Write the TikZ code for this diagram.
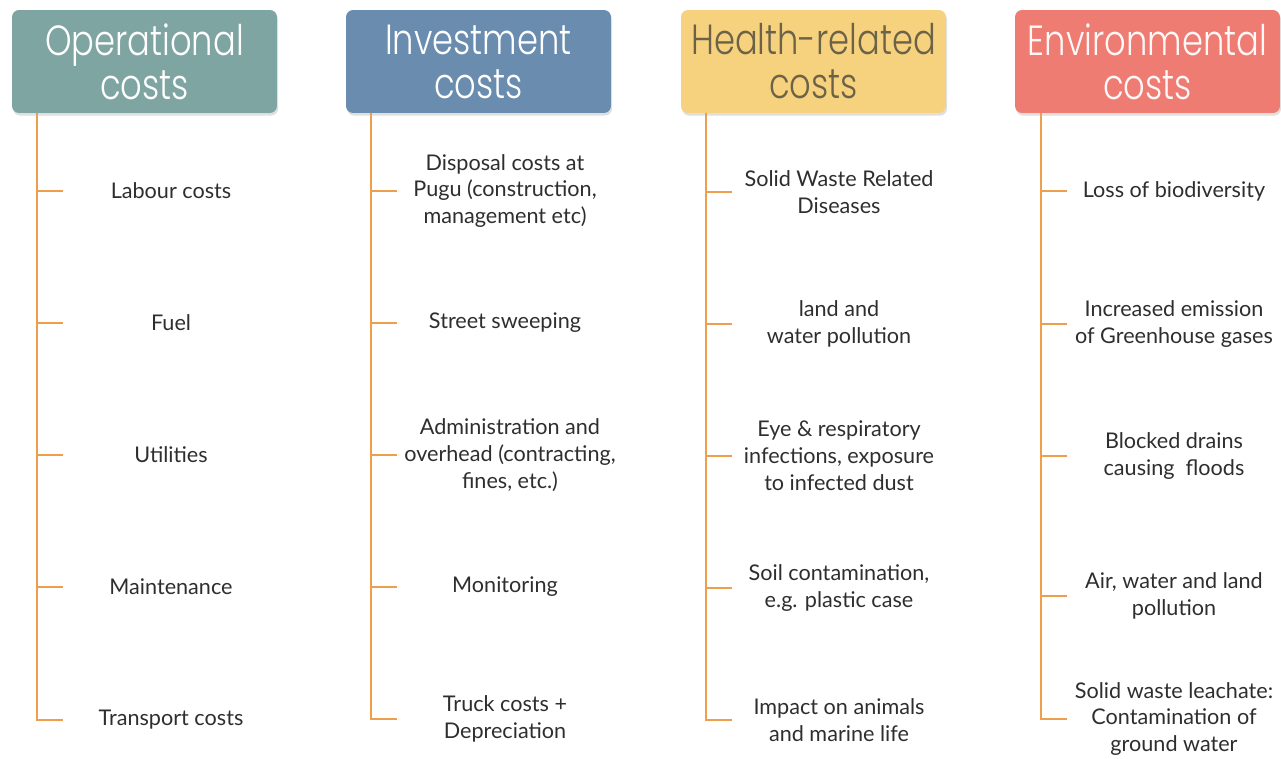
\documentclass[tikz,border=0pt]{standalone}
\usepackage{fontspec}
\usepackage{graphicx}
\setmainfont{Lato}
% light face for the headers when it is there
\IfFontExistsTF{Poppins Light}
    {\newfontfamily\headfont{Poppins Light}}
    {\newfontfamily\headfont{Poppins}}
\usepackage{tikz}
\usetikzlibrary{positioning, shadows}

\definecolor{opcol}{HTML}{7FA5A3}
\definecolor{invcol}{HTML}{6A8CAE}
\definecolor{healthcol}{HTML}{F6D27E}
\definecolor{envcol}{HTML}{EF7C72}
\definecolor{linecol}{HTML}{EE9F4E}
\definecolor{itemtext}{HTML}{2E2E2E}
\definecolor{healthtext}{HTML}{6B6248}

% header lines are set a little narrow
\newcommand{\hd}[1]{\scalebox{0.8}[1]{#1}}

\begin{document}
\begin{tikzpicture}[x=0.02cm, y=-0.02cm,
        header/.style={
            rectangle,
            rounded corners=4pt,
            minimum width=5.3cm,
            minimum height=2.06cm,
            align=center,
            text=white,
            font=\headfont\fontsize{24}{25}\selectfont,
            drop shadow={opacity=0.25, shadow xshift=0.6pt, shadow yshift=-1.5pt}
        },
        item/.style={
            align=center,
            text=itemtext,
            font=\fontsize{12.3}{15.3}\selectfont
        },
        spine/.style={
            draw=linecol,
            line width=1.5pt
        }
    ]
    \useasboundingbox (0,0) rectangle (1281,759);

    % Headers
    \node[header, fill=opcol] (op) at (144.5,61.5) {\hd{Operational}\\\hd{costs}};
    \node[header, fill=invcol] (inv) at (478.5,61.5) {\hd{Investment}\\\hd{costs}};
    \node[header, fill=healthcol, text=healthtext] (he) at (813.5,61.5) {\hd{Health-related}\\\hd{costs}};
    \node[header, fill=envcol, text=white!95!envcol] (en) at (1147.5,61.5) {\hd{Environmental}\\\hd{costs}};

    % Operational costs
    \node[item] (op1) at (171,191) {Labour costs};
    \node[item] (op2) at (171,323) {Fuel};
    \node[item] (op3) at (171,455) {Utilities};
    \node[item] (op4) at (171,587) {Maintenance};
    \node[item] (op5) at (171,720) {Transport costs};

    % Investment costs
    \node[item] (inv1) at (505,191) {Disposal costs at\\Pugu (construction,\\management etc)};
    \node[item] (inv2) at (505,323) {Street sweeping};
    \node[item] (inv3) at (510,455) {Administration and\\overhead (contracting,\\fines, etc.)};
    \node[item] (inv4) at (505,587) {Monitoring};
    \node[item] (inv5) at (505,719) {Truck costs +\\Depreciation};

    % Health-related costs
    \node[item] (he1) at (839,192) {Solid Waste Related\\Diseases};
    \node[item] (he2) at (839,324) {land and\\water pollution};
    \node[item] (he3) at (839,456) {Eye \& respiratory\\infections, exposure\\to infected dust};
    \node[item] (he4) at (839,588) {Soil contamination,\\e.g. plastic case};
    \node[item] (he5) at (839,720) {Impact on animals\\and marine life};

    % Environmental costs
    \node[item] (en1) at (1174,191) {Loss of biodiversity};
    \node[item] (en2) at (1174,324) {Increased emission\\of Greenhouse gases};
    \node[item] (en3) at (1174,456) {Blocked drains\\causing~ floods};
    \node[item] (en4) at (1174,596) {Air, water and land\\pollution};
    \node[item] (en5) at (1174,719) {Solid waste leachate:\\Contamination of\\ground water};

    % Spines under the headers
    \coordinate (opT) at (37,113);
    \coordinate (invT) at (371,113);
    \coordinate (heT) at (706,113);
    \coordinate (enT) at (1041,113);

    \foreach \c in {op, inv, he, en} {
        \draw[spine] (\c T) -- (\c T |- \c5) -- ++(26,0);
        \foreach \n in {1,...,4}
            \draw[spine] (\c T |- \c\n) -- ++(26,0);
    }

\end{tikzpicture}
\end{document}
